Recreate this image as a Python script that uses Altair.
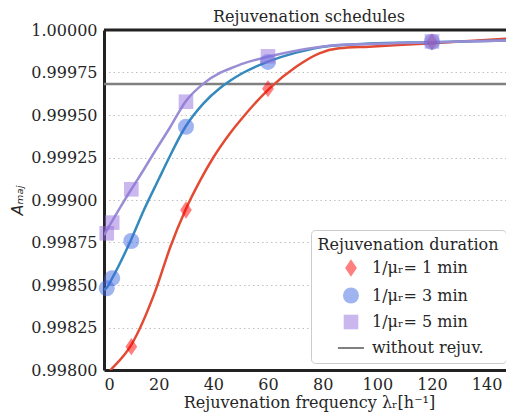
import altair as alt
import pandas as pd

# ---------------- data ----------------
series_names = ["1/μᵣ= 1 min", "1/μᵣ= 3 min", "1/μᵣ= 5 min", "without rejuv."]

# simulated points (markers)
red_x = [10, 30, 60, 120]
red_y = [0.998137, 0.998941, 0.999655, 0.999930]
blue_x = [1, 3, 10, 30, 60, 120]
blue_y = [0.998481, 0.998540, 0.998759, 0.999431, 0.999812, 0.999930]
purple_x = [1, 3, 10, 30, 60, 120]
purple_y = [0.998804, 0.998867, 0.999063, 0.999578, 0.999845, 0.999933]

# fitted curves
red_curve_x = [0, 2.4, 9.7, 18.9, 24.3, 29.8, 35.3, 40, 46, 51, 60.6, 70.3, 78.8, 86, 97, 120, 150]
red_curve_y = [0.99796, 0.998000, 0.998140, 0.998470, 0.998725, 0.998941, 0.999118, 0.999250,
               0.999390, 0.999490, 0.999657, 0.999784, 0.999863, 0.999892, 0.999902, 0.999922, 0.999951]
blue_curve_x = [0, 1, 3, 9.7, 14.6, 20.1, 23.1, 29.8, 36.5, 42.6, 46, 51.1, 60, 70.3, 82.5, 97, 120, 150]
blue_curve_y = [0.998470, 0.998484, 0.998540, 0.998759, 0.998941, 0.999125, 0.999225, 0.999431,
                0.999570, 0.999660, 0.999700, 0.999750, 0.999814, 0.999867, 0.999906, 0.999920,
                0.999928, 0.999940]
purple_curve_x = [0, 6, 10, 12.2, 18.2, 24.3, 29.8, 36.5, 42.6, 46, 51.1, 60, 70.3, 82.5, 97, 120, 150]
purple_curve_y = [0.998794, 0.998958, 0.999063, 0.999118, 0.999275, 0.999431, 0.999578, 0.999686,
                  0.999749, 0.999772, 0.999804, 0.999843, 0.999878, 0.999908, 0.999918, 0.999928,
                  0.999940]

baseline_y = [0.999682]          # "without rejuv."
top_y = [1.0]

x_ticks = [0, 20, 40, 60, 80, 100, 120, 140]
y_ticks = [0.998, 0.99825, 0.9985, 0.99875, 0.999, 0.99925, 0.9995, 0.99975, 1.0]

# ---------------- tables ----------------
pts = pd.DataFrame({
    "x": red_x + blue_x + purple_x,
    "y": red_y + blue_y + purple_y,
    "series": [series_names[0]] * len(red_x) + [series_names[1]] * len(blue_x)
              + [series_names[2]] * len(purple_x),
})
curves = pd.DataFrame({
    "x": red_curve_x + blue_curve_x + purple_curve_x,
    "y": red_curve_y + blue_curve_y + purple_curve_y,
    "curve": ["r"] * len(red_curve_x) + ["b"] * len(blue_curve_x) + ["p"] * len(purple_curve_x),
})
base_df = pd.DataFrame({"y": baseline_y})
top_df = pd.DataFrame({"y": top_y})

# visible part of the 0..150 axis (the reference is cut at the window's right edge)
xscale = alt.Scale(domain=[0, 147.1], nice=False, zero=False)
yscale = alt.Scale(domain=[0.998, 1.0], nice=False, zero=False)

xaxis = alt.Axis(values=x_ticks, title="Rejuvenation frequency λᵣ[h⁻¹]", grid=False, ticks=False,
                 labelPadding=6, titlePadding=2, domainWidth=3, domainColor="#222222",
                 titleX=205)
yaxis = alt.Axis(values=y_ticks, format=".5f", title="Aₘₐⱼ", grid=True, gridDash=[1.5, 3],
                 gridColor="#c0c0c0", gridWidth=1, ticks=False, labelPadding=7, titlePadding=5,
                 domainWidth=3, domainColor="#222222", titleFont="DejaVu Sans",
                 titleFontStyle="italic")

diamond = "M0,-1L0.68,0L0,1L-0.68,0Z"
linesym = "M-2,-0.15L2,-0.15L2,0.15L-2,0.15Z"

lines = alt.Chart(curves).mark_line(strokeWidth=2.5, interpolate="monotone", clip=True).encode(
    x=alt.X("x:Q", scale=xscale, axis=xaxis),
    y=alt.Y("y:Q", scale=yscale, axis=yaxis),
    stroke=alt.Stroke("curve:N", scale=alt.Scale(domain=["r", "b", "p"],
                                                 range=["#E24A33", "#348ABD", "#988ED5"]),
                      legend=None),
    detail="curve:N",
)

base = alt.Chart(base_df).mark_rule(color="#808080", strokeWidth=2.5).encode(
    y=alt.Y("y:Q", scale=yscale)
)

top = alt.Chart(top_df).mark_rule(color="#222222", strokeWidth=3).encode(
    y=alt.Y("y:Q", scale=yscale)
)

points = alt.Chart(pts).mark_point(filled=True, strokeWidth=0, opacity=1).encode(
    x=alt.X("x:Q", scale=xscale),
    y=alt.Y("y:Q", scale=yscale),
    color=alt.Color("series:N",
                    scale=alt.Scale(domain=series_names,
                                    range=["rgba(255,0,0,0.5)", "rgba(65,105,225,0.5)",
                                           "rgba(147,112,219,0.5)", "#808080"]),
                    legend=alt.Legend(title="Rejuvenation duration", orient="none",
                                      legendX=207, legendY=200)),
    shape=alt.Shape("series:N", scale=alt.Scale(domain=series_names,
                                                range=[diamond, "circle", "square", linesym])),
    size=alt.Size("series:N", scale=alt.Scale(domain=series_names, range=[300, 170, 150, 300])),
)

chart = alt.layer(base, lines, points, top).properties(
    width=402, height=340,
    title="Rejuvenation schedules",
    autosize=alt.AutoSizeParams(type="none"),
    padding={"left": 96, "top": 22, "right": 0, "bottom": 42},
).configure(
    font="DejaVu Serif", background="white"
).configure_view(
    strokeWidth=0
).configure_axis(
    labelFontSize=16, titleFontSize=16, labelColor="#262626", titleColor="#262626",
    titleFontWeight="normal", labelFont="DejaVu Serif"
).configure_title(
    fontSize=16, fontWeight="normal", color="#262626", font="DejaVu Serif", offset=-3,
    anchor="middle", frame="group", dx=4
).configure_legend(
    titleFontSize=16, labelFontSize=16, titleFontWeight="normal", titleColor="#262626",
    labelColor="#262626", strokeColor="#cccccc", fillColor="white", cornerRadius=4,
    padding=7, symbolStrokeWidth=0, titleAnchor="middle", labelOffset=12, rowPadding=10,
    symbolOffset=10, titlePadding=6, titleLimit=400, labelLimit=400
)

chart.save("out.html", embed_options={"renderer": "svg", "actions": False})
